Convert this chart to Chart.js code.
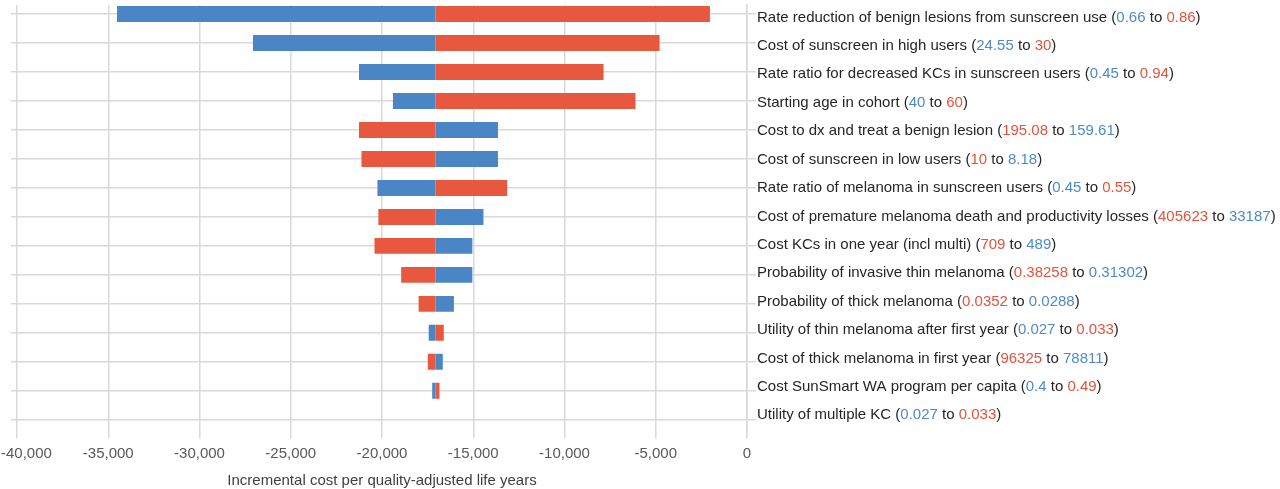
<!DOCTYPE html>
<html>
<head>
<meta charset="utf-8">
<script src="https://cdn.jsdelivr.net/npm/chart.js@4"></script>
<style>
  html, body { margin: 0; padding: 0; background: #ffffff; }
  #wrap { width: 1280px; height: 489px; position: relative; }
</style>
</head>
<body>
<div id="wrap"><canvas id="c" width="1280" height="489"></canvas></div>
<script>
const categories = [
  "Rate reduction of benign lesions from sunscreen use",
  "Cost of sunscreen in high users",
  "Rate ratio for decreased KCs in sunscreen users",
  "Starting age in cohort",
  "Cost to dx and treat a benign lesion",
  "Cost of sunscreen in low users",
  "Rate ratio of melanoma in sunscreen users",
  "Cost of premature melanoma death and productivity losses",
  "Cost KCs in one year (incl multi)",
  "Probability of invasive thin melanoma",
  "Probability of thick melanoma",
  "Utility of thin melanoma after first year",
  "Cost of thick melanoma in first year",
  "Cost SunSmart WA program per capita",
  "Utility of multiple KC"
];
const fromValues = ["0.66", "24.55", "0.45", "40", "195.08", "10", "0.45", "405623", "709", "0.38258", "0.0352", "0.027", "96325", "0.4", "0.027"];
const toValues   = ["0.86", "30", "0.94", "60", "159.61", "8.18", "0.55", "33187", "489", "0.31302", "0.0288", "0.033", "78811", "0.49", "0.033"];

const baseValue = -17065;
const blueEnds = [-34520, -27070, -21260, -19400, -13645, -13645, -20250, -14440, -15050, -15050, -16060, -17440, -16670, -17250, -17065];
const redEnds  = [-2030, -4790, -7860, -6110, -21260, -21125, -13140, -20200, -20410, -18950, -17995, -16615, -17490, -16850, -17065];

const xTicks = [-40000, -35000, -30000, -25000, -20000, -15000, -10000, -5000, 0];
const xTitle = "Incremental cost per quality-adjusted life years";

const BLUE = "#4a86c6";
const RED = "#e8583e";
const BLUE_TXT = "#4f8ac6";
const RED_TXT = "#e0553c";
const TXT = "#262626";
const GRID = "#d9d9d9";
const FONT = '"Liberation Sans", Arial, sans-serif';

const fmt = v => v.toLocaleString("en-US");

// category band placement (leaves a small gap above the first row like the original)
function placeCategories(scale) {
  scale._startValue = -0.3116;
  scale._valueRange = 14.785;
}

const labelPlugin = {
  id: "tornadoLabels",
  afterDraw(chart) {
    const ctx = chart.ctx;
    const yScale = chart.scales.y;
    const xScale = chart.scales.x;
    const n = categories.length;
    const yFirst = yScale.getPixelForTick(0) + 3.5;
    const yLast = yScale.getPixelForTick(n - 1) - 4.5;
    ctx.save();
    ctx.font = "15px " + FONT;
    ctx.textBaseline = "middle";
    ctx.textAlign = "left";
    categories.forEach((cat, i) => {
      const y = yFirst + (yLast - yFirst) * i / (n - 1);
      let x = chart.chartArea.right + 10;
      const blueFirst = blueEnds[i] <= baseValue;
      const c1 = blueFirst ? BLUE_TXT : RED_TXT;
      const c2 = blueFirst ? RED_TXT : BLUE_TXT;
      const segs = [[cat + " (", TXT], [fromValues[i], c1], [" to ", TXT], [toValues[i], c2], [")", TXT]];
      segs.forEach(([t, c]) => {
        ctx.fillStyle = c;
        ctx.fillText(t, x, y);
        x += ctx.measureText(t).width;
      });
    });
    // first x tick label, kept inside the canvas as in the original
    const firstLabel = fmt(xTicks[0]);
    ctx.fillStyle = "#595959";
    ctx.fillText(firstLabel, 1, xScale.top + 5 + 6 + 9);
    ctx.restore();
  }
};

new Chart(document.getElementById("c"), {
  type: "bar",
  data: {
    labels: categories,
    datasets: [
      { label: "Low", data: blueEnds.map(v => [baseValue, v]), backgroundColor: BLUE, borderWidth: 0, grouped: false, barPercentage: 0.55, categoryPercentage: 1 },
      { label: "High", data: redEnds.map(v => [baseValue, v]), backgroundColor: RED, borderWidth: 0, grouped: false, barPercentage: 0.55, categoryPercentage: 1 }
    ]
  },
  options: {
    indexAxis: "y",
    responsive: false,
    animation: false,
    layout: { padding: { left: 11, right: 524, top: 5, bottom: 0 } },
    plugins: { legend: { display: false }, tooltip: { enabled: false } },
    scales: {
      x: {
        type: "linear",
        min: -40000, max: 0,
        afterBuildTicks(scale) { scale.ticks = xTicks.map(v => ({ value: v })); },
        afterFit(scale) { scale.paddingLeft = 0; scale.paddingRight = 0; },
        grid: { color: GRID, lineWidth: 1.5, tickLength: 5 },
        border: { display: false },
        ticks: {
          color: "#595959", padding: 6, maxRotation: 0, autoSkip: false,
          font: { family: FONT, size: 15 },
          callback: (v, i) => (i === 0 ? "" : fmt(v))
        },
        title: {
          display: true, text: xTitle, color: "#404040",
          font: { family: FONT, size: 15, lineHeight: 1.1 },
          padding: { top: 4, bottom: 0 }
        }
      },
      y: {
        type: "category",
        position: "right",
        afterBuildTicks: placeCategories,
        grid: { color: GRID, lineWidth: 1.5, offset: false, tickLength: 9 },
        border: { display: true, color: GRID, width: 1.5 },
        ticks: { display: false }
      },
      y2: {
        type: "category",
        position: "left",
        labels: categories,
        afterBuildTicks: placeCategories,
        grid: { color: GRID, lineWidth: 1.5, offset: false, tickLength: 6, drawOnChartArea: false },
        border: { display: false },
        ticks: { display: false }
      }
    }
  },
  plugins: [labelPlugin]
});
</script>
</body>
</html>
